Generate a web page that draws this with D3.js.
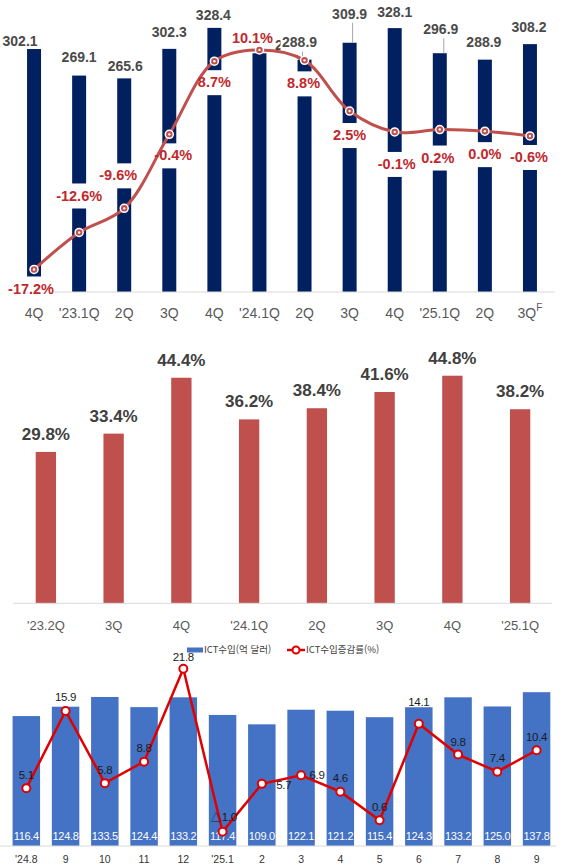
<!DOCTYPE html>
<html lang="ko">
<head>
<meta charset="UTF-8">
<title>ICT charts</title>
<script src="https://cdn.jsdelivr.net/npm/d3@7"></script>
<style>
  body { margin: 0; background: #fff; }
  svg { display: block; font-family: "Liberation Sans", Arial, sans-serif; }
</style>
</head>
<body>
<svg id="chart" width="562" height="866"></svg>
<script>
// ---- panel 1: ICT exports by quarter + YoY growth
const quarters1 = ["4Q", "'23.1Q", "2Q", "3Q", "4Q", "'24.1Q", "2Q", "3Q", "4Q", "'25.1Q", "2Q", "3Q"];
const exports1 = [302.1, 269.1, 265.6, 302.3, 328.4, 296.8, 288.9, 309.9, 328.1, 296.9, 288.9, 308.2];
const growth1 = [-17.2, -12.6, -9.6, -0.4, 8.7, 10.1, 8.8, 2.5, -0.1, 0.2, 0.0, -0.6];

// ---- panel 2: share by quarter (%)
const quarters2 = ["'23.2Q", "3Q", "4Q", "'24.1Q", "2Q", "3Q", "4Q", "'25.1Q"];
const share2 = [29.8, 33.4, 44.4, 36.2, 38.4, 41.6, 44.8, 38.2];

// ---- panel 3: monthly ICT imports + growth
const months3 = ["'24.8", "9", "10", "11", "12", "'25.1", "2", "3", "4", "5", "6", "7", "8", "9"];
const imports3 = [116.4, 124.8, 133.5, 124.4, 133.2, 117.4, 109.0, 122.1, 121.2, 115.4, 124.3, 133.2, 125.0, 137.8];
const growth3 = [5.1, 15.9, 5.8, 8.8, 21.8, -1.0, 5.7, 6.9, 4.6, 0.6, 14.1, 9.8, 7.4, 10.4];
const legend3 = ["ICT수입(억 달러)", "ICT수입증감률(%)"];

// label nudges (hand placed in the original), [dx, dy]
const nudgeGrowth1 = [[-3, 19], [0, -37], [-6, -33], [4, 21], [0, 21], [-7, -12], [-1, 23], [0, 24], [2, 32], [-2, 28], [0, 23], [-1, 21]];
const nudgeValue1 = [[-14, -8], [0, -18], [1, -12], [0, -17], [-1, -13], [33, -8], [-5, -18], [0, -29], [0, -16], [1, -24], [-1, -18], [-1, -17]];
const leader1 = [false, false, false, false, false, false, true, true, false, true, false, false];
const nudgeGrowth3 = [[0, -13], [0, -14], [0, -13], [0, -14], [0, -12], [1, -15], [22, 1], [16, 0], [0, -14], [0, -13], [0, -22], [0, -13], [0, -14], [0, -13]];

const svg = d3.select("#chart");

// ================= panel 1 =================
const x1 = d3.scaleBand().domain(d3.range(quarters1.length)).range([11.5, 552.5])
    .paddingInner(0.69).paddingOuter(0.345);
const yBar1 = d3.scaleLinear().domain([0, 350]).range([292, 10.5]);
const yLine1 = d3.scaleLinear().domain([-20, 15]).range([292, 10.5]);
const cx1 = i => x1(i) + x1.bandwidth() / 2;

const p1 = svg.append("g");

p1.selectAll(".bar1")
    .data(exports1)
    .enter()
    .append("rect")
    .attr("x", (d, i) => x1(i))
    .attr("y", d => yBar1(d))
    .attr("width", x1.bandwidth())
    .attr("height", d => yBar1(0) - yBar1(d))
    .attr("fill", "#002060");

p1.append("line")
    .attr("x1", 10).attr("x2", 555)
    .attr("y1", yBar1(0)).attr("y2", yBar1(0))
    .attr("stroke", "#d9d9d9");

// bar value labels
p1.selectAll(".leader1")
    .data(exports1.map((d, i) => ({ d, i })).filter(o => leader1[o.i]))
    .enter()
    .append("line")
    .attr("x1", o => cx1(o.i) + nudgeValue1[o.i][0] + 3)
    .attr("x2", o => cx1(o.i) + nudgeValue1[o.i][0] + 3)
    .attr("y1", o => yBar1(o.d) + nudgeValue1[o.i][1] + 9)
    .attr("y2", o => yBar1(o.d))
    .attr("stroke", "#a6a6a6");

const valLabels1 = p1.selectAll(".val1")
    .data(exports1)
    .enter()
    .append("g")
    .attr("transform", (d, i) => `translate(${cx1(i) + nudgeValue1[i][0]},${yBar1(d) + nudgeValue1[i][1]})`);
valLabels1.filter((d, i) => i === 6)
    .append("rect")
    .attr("x", -19).attr("y", -10).attr("width", 38).attr("height", 20)
    .attr("fill", "#fff");
valLabels1.append("text")
    .attr("text-anchor", "middle")
    .attr("dy", "0.35em")
    .attr("font-size", 14)
    .attr("font-weight", "bold")
    .attr("fill", "#4a4a4a")
    .text(d => d.toFixed(1));
// '24.1Q label sits behind the 2Q one in the original: re-raise the 2Q label
valLabels1.filter((d, i) => i === 6).raise();

// growth label boxes (cut through the bars)
const gl1 = growth1.map((d, i) => ({ d, i, x: cx1(i) + nudgeGrowth1[i][0], y: yLine1(d) + nudgeGrowth1[i][1] }));
p1.selectAll(".box1")
    .data(gl1)
    .enter()
    .append("rect")
    .attr("x", o => o.x - 22)
    .attr("y", o => o.y - 12)
    .attr("width", 44)
    .attr("height", 25)
    .attr("fill", "#fff");

// growth line
p1.append("path")
    .datum(growth1)
    .attr("d", d3.line()
        .x((d, i) => cx1(i))
        .y(d => yLine1(d))
        .curve(d3.curveCatmullRom.alpha(0.5)))
    .attr("fill", "none")
    .attr("stroke", "#C0504D")
    .attr("stroke-width", 3);

p1.selectAll(".dot1")
    .data(growth1)
    .enter()
    .append("circle")
    .attr("cx", (d, i) => cx1(i))
    .attr("cy", d => yLine1(d))
    .attr("r", 4)
    .attr("fill", "#C0504D")
    .attr("stroke", "#fff")
    .attr("stroke-width", 1.5);
p1.selectAll(".dot1c")
    .data(growth1)
    .enter()
    .append("circle")
    .attr("cx", (d, i) => cx1(i))
    .attr("cy", d => yLine1(d))
    .attr("r", 1.2)
    .attr("fill", "#fff");

p1.selectAll(".lab1")
    .data(gl1)
    .enter()
    .append("text")
    .attr("x", o => o.x)
    .attr("y", o => o.y)
    .attr("dy", "0.35em")
    .attr("text-anchor", "middle")
    .attr("font-size", 14.5)
    .attr("font-weight", "bold")
    .attr("fill", "#C0282D")
    .text(o => o.d.toFixed(1) + "%");

const xl1 = p1.selectAll(".xl1")
    .data(quarters1)
    .enter()
    .append("text")
    .attr("x", (d, i) => cx1(i))
    .attr("y", 313)
    .attr("dy", "0.35em")
    .attr("text-anchor", "middle")
    .attr("font-size", 14)
    .attr("fill", "#595959")
    .text(d => d);
xl1.filter((d, i) => i === quarters1.length - 1)
    .append("tspan")
    .attr("dy", "-0.7em")
    .attr("font-size", 10)
    .text("F");

// ================= panel 2 =================
const x2 = d3.scaleBand().domain(d3.range(quarters2.length)).range([12, 554])
    .paddingInner(0.7).paddingOuter(0.35);
const y2 = d3.scaleLinear().domain([0, 50]).range([603.3, 349.3]);
const cx2 = i => x2(i) + x2.bandwidth() / 2;

const p2 = svg.append("g");
p2.selectAll(".bar2")
    .data(share2)
    .enter()
    .append("rect")
    .attr("x", (d, i) => x2(i))
    .attr("y", d => y2(d))
    .attr("width", x2.bandwidth())
    .attr("height", d => y2(0) - y2(d))
    .attr("fill", "#C0504D");

p2.append("line")
    .attr("x1", 13).attr("x2", 552)
    .attr("y1", y2(0)).attr("y2", y2(0))
    .attr("stroke", "#d9d9d9");

p2.selectAll(".lab2")
    .data(share2)
    .enter()
    .append("text")
    .attr("x", (d, i) => cx2(i))
    .attr("y", d => y2(d) - 18)
    .attr("dy", "0.35em")
    .attr("text-anchor", "middle")
    .attr("font-size", 17)
    .attr("font-weight", "bold")
    .attr("fill", "#404040")
    .text(d => d.toFixed(1) + "%");

p2.selectAll(".xl2")
    .data(quarters2)
    .enter()
    .append("text")
    .attr("x", (d, i) => cx2(i))
    .attr("y", 625)
    .attr("dy", "0.35em")
    .attr("text-anchor", "middle")
    .attr("font-size", 13)
    .attr("fill", "#595959")
    .text(d => d);

// ================= panel 3 =================
const x3 = d3.scaleBand().domain(d3.range(months3.length)).range([6.7, 556.2])
    .paddingInner(0.3).paddingOuter(0.15);
const yBar3 = d3.scaleLinear().domain([0, 160]).range([846, 667.4]);
const yLine3 = d3.scaleLinear().domain([-3, 22]).range([846, 667.4]);
const cx3 = i => x3(i) + x3.bandwidth() / 2;

const p3 = svg.append("g");
p3.selectAll(".bar3")
    .data(imports3)
    .enter()
    .append("rect")
    .attr("x", (d, i) => x3(i))
    .attr("y", d => yBar3(d))
    .attr("width", x3.bandwidth())
    .attr("height", d => yBar3(0) - yBar3(d))
    .attr("fill", "#4472C4");

p3.append("line")
    .attr("x1", 0).attr("x2", 556)
    .attr("y1", yBar3(0)).attr("y2", yBar3(0))
    .attr("stroke", "#d9d9d9");

p3.selectAll(".val3")
    .data(imports3)
    .enter()
    .append("text")
    .attr("x", (d, i) => cx3(i))
    .attr("y", 836)
    .attr("dy", "0.35em")
    .attr("text-anchor", "middle")
    .attr("font-size", 11)
    .attr("letter-spacing", -0.3)
    .attr("fill", "#fff")
    .text(d => d.toFixed(1));

p3.append("path")
    .datum(growth3)
    .attr("d", d3.line().x((d, i) => cx3(i)).y(d => yLine3(d)))
    .attr("fill", "none")
    .attr("stroke", "#E00000")
    .attr("stroke-width", 2.5);

p3.selectAll(".dot3")
    .data(growth3)
    .enter()
    .append("circle")
    .attr("cx", (d, i) => cx3(i))
    .attr("cy", d => yLine3(d))
    .attr("r", 4)
    .attr("fill", "#fff")
    .attr("stroke", "#E00000")
    .attr("stroke-width", 2);

p3.selectAll(".lab3")
    .data(growth3)
    .enter()
    .append("text")
    .attr("x", (d, i) => cx3(i) + nudgeGrowth3[i][0])
    .attr("y", (d, i) => yLine3(d) + nudgeGrowth3[i][1])
    .attr("dy", "0.35em")
    .attr("text-anchor", "middle")
    .attr("font-size", 11.5)
    .attr("letter-spacing", -0.3)
    .attr("fill", "#1a1a1a")
    .text(d => d < 0 ? "△" + Math.abs(d).toFixed(1) : d.toFixed(1));

p3.selectAll(".xl3")
    .data(months3)
    .enter()
    .append("text")
    .attr("x", (d, i) => cx3(i))
    .attr("y", 859)
    .attr("dy", "0.35em")
    .attr("text-anchor", "middle")
    .attr("font-size", 10.5)
    .attr("fill", "#333")
    .text(d => d);

// legend
const lg = p3.append("g").attr("font-family", "'Noto Sans CJK KR', sans-serif");
lg.append("rect")
    .attr("x", 187).attr("y", 647.5).attr("width", 16).attr("height", 5)
    .attr("fill", "#4472C4");
lg.append("text")
    .attr("x", 204).attr("y", 650).attr("dy", "0.35em")
    .attr("font-size", 9.5).attr("fill", "#404040")
    .text(legend3[0]);
lg.append("line")
    .attr("x1", 287).attr("x2", 305).attr("y1", 650).attr("y2", 650)
    .attr("stroke", "#E00000").attr("stroke-width", 2.5);
lg.append("circle")
    .attr("cx", 296).attr("cy", 650).attr("r", 3.5)
    .attr("fill", "#fff").attr("stroke", "#E00000").attr("stroke-width", 2);
lg.append("text")
    .attr("x", 306).attr("y", 650).attr("dy", "0.35em")
    .attr("font-size", 9.5).attr("fill", "#404040")
    .text(legend3[1]);
</script>
</body>
</html>
